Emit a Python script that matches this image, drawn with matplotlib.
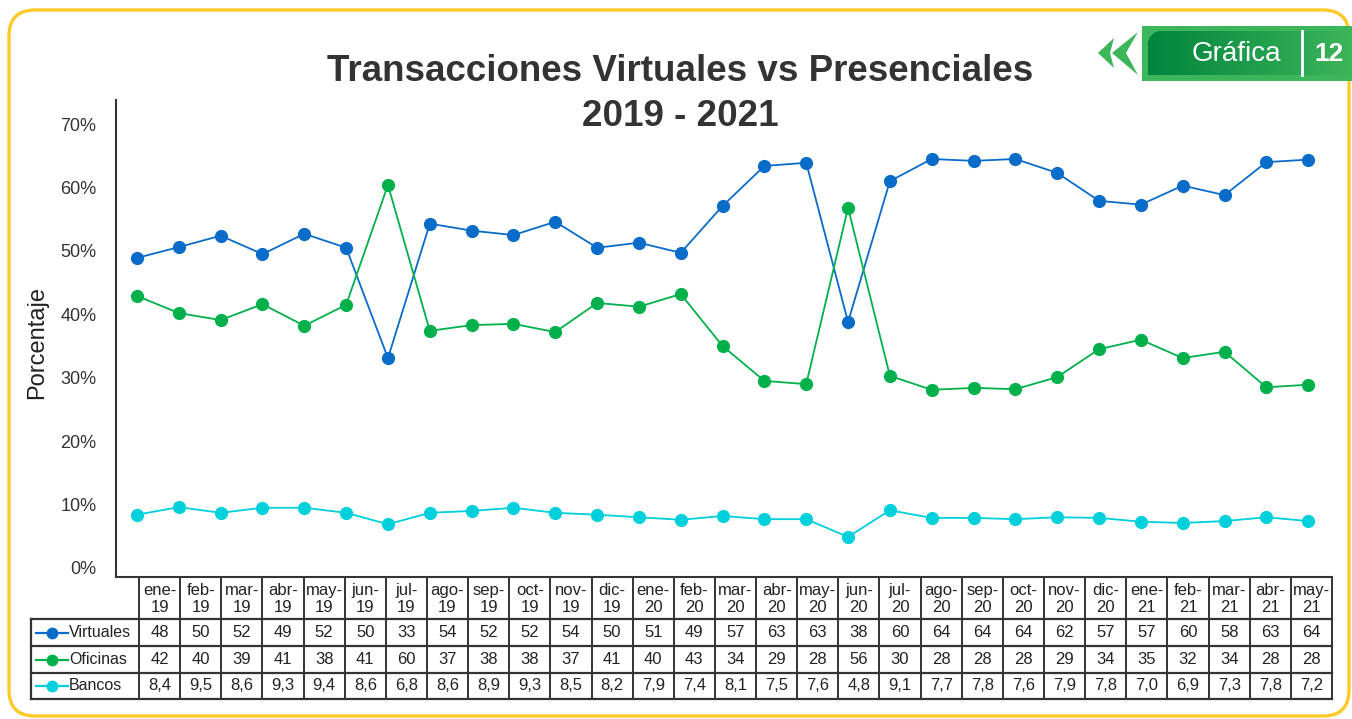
import numpy as np
import matplotlib
matplotlib.use("Agg")
import matplotlib.pyplot as plt
from matplotlib.patches import FancyBboxPatch, Rectangle, Polygon

plt.rcParams['font.family'] = ['Liberation Sans', 'DejaVu Sans']

# -----------------------------------
# DATA
# -----------------------------------

meses = ["ene-\n19", "feb-\n19", "mar-\n19", "abr-\n19", "may-\n19", "jun-\n19",
         "jul-\n19", "ago-\n19", "sep-\n19", "oct-\n19", "nov-\n19", "dic-\n19",
         "ene-\n20", "feb-\n20", "mar-\n20", "abr-\n20", "may-\n20", "jun-\n20",
         "jul-\n20", "ago-\n20", "sep-\n20", "oct-\n20", "nov-\n20", "dic-\n20",
         "ene-\n21", "feb-\n21", "mar-\n21", "abr-\n21", "may-\n21"]

# values (%)
virtuales = [48.9, 50.6, 52.4, 49.5, 52.7, 50.5, 33.1, 54.3, 53.2, 52.5, 54.6, 50.5,
             51.3, 49.7, 57.1, 63.4, 63.9, 38.8, 61.0, 64.5, 64.2, 64.5, 62.3, 57.9,
             57.3, 60.3, 58.8, 64.0, 64.4]
oficinas = [42.9, 40.2, 39.1, 41.6, 38.2, 41.5, 60.4, 37.4, 38.3, 38.5, 37.2, 41.8,
            41.2, 43.2, 35.0, 29.5, 29.0, 56.8, 30.3, 28.1, 28.4, 28.2, 30.1, 34.5,
            36.0, 33.1, 34.1, 28.5, 28.9]
bancos = [8.4, 9.6, 8.7, 9.5, 9.5, 8.7, 6.9, 8.7, 9.0, 9.5, 8.7, 8.4,
          8.0, 7.6, 8.2, 7.7, 7.7, 4.9, 9.1, 7.9, 7.9, 7.7, 8.0, 7.9,
          7.3, 7.1, 7.4, 8.0, 7.4]

# values printed in the data table
tabla_virtuales = ["48", "50", "52", "49", "52", "50", "33", "54", "52", "52", "54", "50",
                   "51", "49", "57", "63", "63", "38", "60", "64", "64", "64", "62", "57",
                   "57", "60", "58", "63", "64"]
tabla_oficinas = ["42", "40", "39", "41", "38", "41", "60", "37", "38", "38", "37", "41",
                  "40", "43", "34", "29", "28", "56", "30", "28", "28", "28", "29", "34",
                  "35", "32", "34", "28", "28"]
tabla_bancos = ["8,4", "9,5", "8,6", "9,3", "9,4", "8,6", "6,8", "8,6", "8,9", "9,3", "8,5", "8,2",
                "7,9", "7,4", "8,1", "7,5", "7,6", "4,8", "9,1", "7,7", "7,8", "7,6", "7,9", "7,8",
                "7,0", "6,9", "7,3", "7,8", "7,2"]

series = ["Virtuales", "Oficinas", "Bancos"]
colores = ["#0A6CC9", "#00B04B", "#00CFDC"]

# -----------------------------------
# FIGURE
# -----------------------------------

W, H = 1352, 719
fig = plt.figure(figsize=(W / 100, H / 100), dpi=100, facecolor="white")

# background / decoration layer in pixel coords
bg = fig.add_axes([0, 0, 1, 1], zorder=0)
bg.set_xlim(0, W)
bg.set_ylim(H, 0)
bg.axis("off")

bg.add_patch(FancyBboxPatch((9, 10), 1340, 706,
                            boxstyle="round,pad=0,rounding_size=26",
                            fc="white", ec="#FFC928", lw=2.4))

# badge "Gráfica 12" (inner part rounded only at top-left)
bg.add_patch(Rectangle((1142, 26), 215, 55, fc="#3DB55A", ec="none"))
r = 13
ang = np.linspace(np.pi, 1.5 * np.pi, 12)
arc = [(1148 + r + r * np.cos(a), 31 + r + r * np.sin(a)) for a in ang]
badge = Polygon([(1148, 75)] + arc + [(1360, 31), (1360, 75)],
                closed=True, fc="none", ec="none")
bg.add_patch(badge)
grad = np.linspace(0, 1, 256).reshape(1, -1)
cmap = matplotlib.colors.LinearSegmentedColormap.from_list("g", ["#00843D", "#3DB55A"])
im = bg.imshow(grad, extent=(1148, 1352, 75, 31), cmap=cmap, aspect="auto", zorder=2)
im.set_clip_path(badge)
bg.set_xlim(0, W)
bg.set_ylim(H, 0)
bg.text(1236, 54, "Gráfica", color="white", fontsize=20, ha="center", va="center", zorder=3)
bg.plot([1302, 1302], [31, 75], color="white", lw=2, zorder=3)
bg.text(1329, 54, "12", color="white", fontsize=19, fontweight="bold",
        ha="center", va="center", zorder=3)
bg.add_patch(Polygon([(1098, 53), (1114, 38), (1110, 53), (1114, 68)],
                     closed=True, fc="#3DB55A", ec="none"))
bg.add_patch(Polygon([(1112, 53), (1138, 32), (1126, 53), (1138, 75)],
                     closed=True, fc="#3DB55A", ec="none"))

# title
fig.text(680 / W, 1 - 94 / H, "Transacciones Virtuales vs Presenciales\n2019 - 2021",
         ha="center", va="center", fontsize=26.5, fontweight="bold",
         color="#333333", linespacing=1.35)

# -----------------------------------
# LINE CHART
# -----------------------------------

ax = fig.add_axes([116 / W, 1 - 577 / H, (1332 - 116) / W, (577 - 100) / H], zorder=1)
ax.patch.set_alpha(0)

x = np.arange(len(meses))
for vals, col in zip([virtuales, oficinas, bancos], colores):
    ax.plot(x, vals, color=col, lw=1.3, marker="o", markersize=9.5,
            markeredgewidth=0)

ax.set_xlim(-0.502, 28.57)
ax.set_ylim(-1.42, 73.8)
ax.set_yticks(range(0, 71, 10))
ax.set_yticklabels([f"{v}%" for v in range(0, 71, 10)])
ax.tick_params(axis="y", length=0, pad=14, labelsize=13, labelcolor="#333333")
ax.set_xticks([])
for s in ["top", "right"]:
    ax.spines[s].set_visible(False)
for s in ["left", "bottom"]:
    ax.spines[s].set_color("#333333")
    ax.spines[s].set_linewidth(1.5)

fig.text(37 / W, 1 - 342 / H, "Porcentaje", rotation=90, ha="center",
         va="center", fontsize=17, color="#222222")

# -----------------------------------
# DATA TABLE
# -----------------------------------

tx0, tx1 = 139, 1332
col_edges = np.linspace(tx0, tx1, len(meses) + 1)
row_edges = [577, 619, 646, 673, 699]
lab_x0 = 31
lc = "#333333"

# header
for i, m in enumerate(meses):
    cx = (col_edges[i] + col_edges[i + 1]) / 2
    bg.text(cx, 599, m, ha="center", va="center", fontsize=12,
            color="#222222", linespacing=1.15)

# body
filas = [tabla_virtuales, tabla_oficinas, tabla_bancos]
for r, (nombre, col, vals) in enumerate(zip(series, colores, filas)):
    cy = (row_edges[r + 1] + row_edges[r + 2]) / 2
    bg.plot([36, 68], [cy, cy], color=col, lw=1.6)
    bg.plot([52], [cy], marker="o", color=col, markersize=8.5, markeredgewidth=0)
    bg.text(69, cy, nombre, ha="left", va="center", fontsize=11.5, color="#222222")
    for i, v in enumerate(vals):
        cx = (col_edges[i] + col_edges[i + 1]) / 2
        bg.text(cx, cy, v, ha="center", va="center", fontsize=12, color="#222222")

# grid lines
for xe in col_edges:
    bg.plot([xe, xe], [row_edges[0], row_edges[-1]], color=lc, lw=1.4)
bg.plot([lab_x0, lab_x0], [row_edges[1], row_edges[-1]], color=lc, lw=1.6)
bg.plot([tx0, tx1], [row_edges[0], row_edges[0]], color=lc, lw=1.4)
for ye in row_edges[1:]:
    bg.plot([lab_x0, tx1], [ye, ye], color=lc, lw=1.6)

fig.savefig("out.png", dpi=100, facecolor="white")
